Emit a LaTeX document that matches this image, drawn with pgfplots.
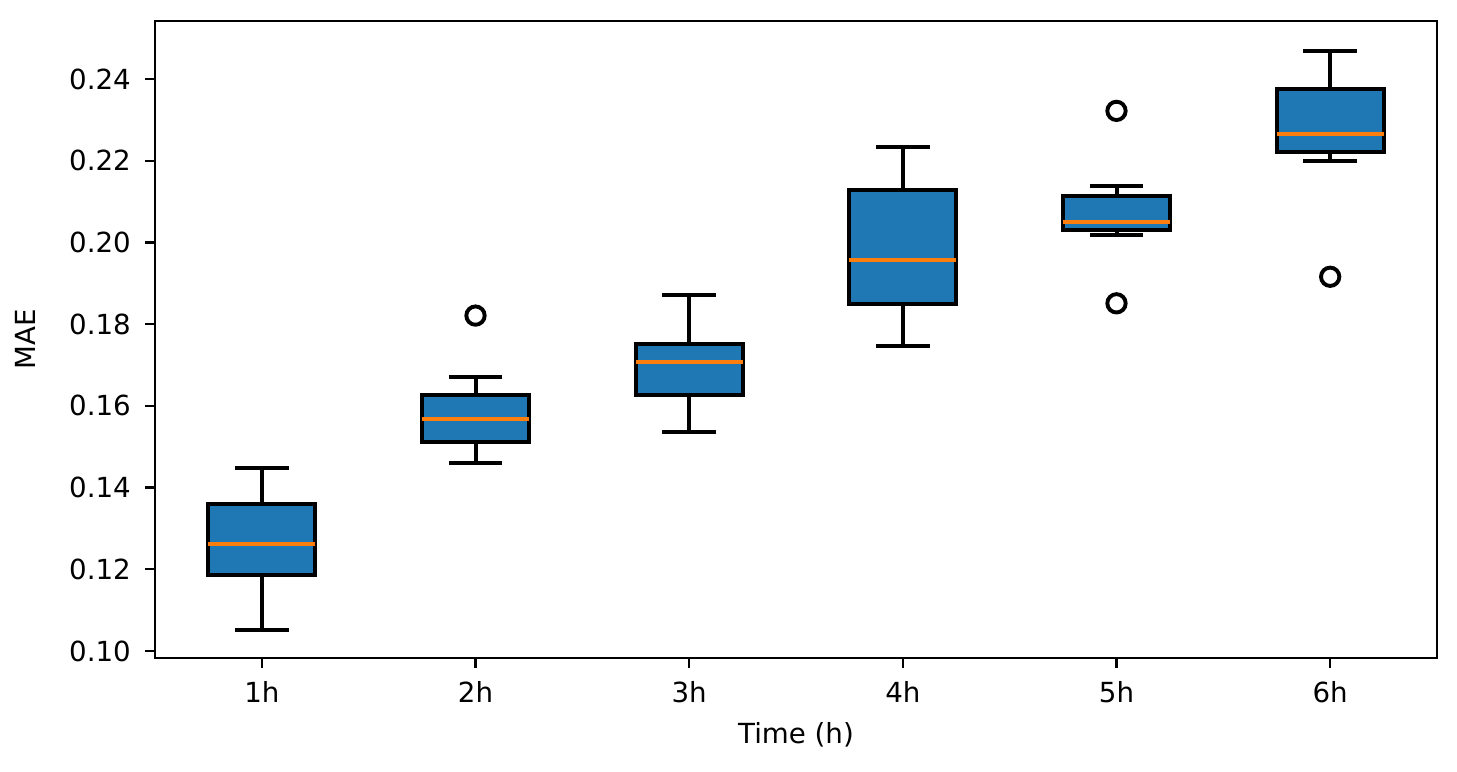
\documentclass[border=0pt]{standalone}
\usepackage{fontspec}
\setmainfont{DejaVu Sans}
\usepackage{pgfplots}
\pgfplotsset{compat=1.18}
\usepgfplotslibrary{statistics}
\definecolor{mplblue}{HTML}{1F77B4}
\definecolor{mplorange}{HTML}{FF7F0E}

\pgfplotsset{
  outl/.style={black, mark=o, mark size=3.3bp,
    mark options={solid, draw=black, fill=none, line width=1.4bp}},
}

\begin{document}
\begin{tikzpicture}
\begin{axis}[
  scale only axis, width=461.5bp, height=229.3bp,
  xmin=0.5, xmax=6.5, ymin=0.0983, ymax=0.2542,
  xtick={1,2,3,4,5,6}, xticklabels={1h,2h,3h,4h,5h,6h},
  ytick={0.10,0.12,0.14,0.16,0.18,0.20,0.22,0.24},
  /pgf/number format/assume math mode=true,
  yticklabel style={/pgf/number format/.cd, fixed, fixed zerofill, precision=2, /tikz/.cd, inner sep=0pt, anchor=east, xshift=-5bp},
  xticklabel style={inner sep=0pt, anchor=north, yshift=-4.7bp},
  tick align=outside, tick pos=left,
  major tick length=3.5bp,
  every tick/.style={black, line width=0.8pt},
  axis line style={line width=0.8pt},
  xlabel={Time (h)}, ylabel={MAE},
  xlabel style={at={(axis description cs:0.5,0)}, anchor=north, inner sep=0pt, yshift=-23bp},
  ylabel style={at={(axis description cs:-0.1014,0.5)}, anchor=center, inner sep=0pt},
  font=\fontsize{10}{12}\selectfont,
  boxplot/draw direction=y,
  boxplot/box extend=0.5,
  boxplot/whisker extend=0.25,
  boxplot/every box/.style={draw=black, fill=mplblue, line width=1.44bp},
  boxplot/every whisker/.style={draw=black, line width=1.44bp},
  boxplot/every median/.style={draw=mplorange, line width=1.44bp},
]
% 1h
\addplot[outl, boxplot prepared={draw position=1,
  lower whisker=0.1052, lower quartile=0.1186, median=0.1263,
  upper quartile=0.1360, upper whisker=0.1447}] coordinates {};
% 2h
\addplot[outl, boxplot prepared={draw position=2,
  lower whisker=0.1461, lower quartile=0.1512, median=0.1569,
  upper quartile=0.1627, upper whisker=0.1671}]
  table[row sep=\\, y index=0] {y\\ 0.1821\\};
% 3h
\addplot[outl, boxplot prepared={draw position=3,
  lower whisker=0.1535, lower quartile=0.1627, median=0.1707,
  upper quartile=0.1751, upper whisker=0.1871}] coordinates {};
% 4h
\addplot[outl, boxplot prepared={draw position=4,
  lower whisker=0.1747, lower quartile=0.1849, median=0.1958,
  upper quartile=0.2128, upper whisker=0.2234}] coordinates {};
% 5h
\addplot[outl, boxplot prepared={draw position=5,
  lower whisker=0.2019, lower quartile=0.2031, median=0.2049,
  upper quartile=0.2114, upper whisker=0.2138}]
  table[row sep=\\, y index=0] {y\\ 0.2322\\ 0.1851\\};
% 6h
\addplot[outl, boxplot prepared={draw position=6,
  lower whisker=0.2200, lower quartile=0.2222, median=0.2266,
  upper quartile=0.2375, upper whisker=0.2468}]
  table[row sep=\\, y index=0] {y\\ 0.1916\\};
\coordinate (bl) at (rel axis cs:0,0);
\coordinate (tr) at (rel axis cs:1,1);
\end{axis}
\pgfresetboundingbox
\path ([xshift=-55.8bp,yshift=-41.0bp]bl) rectangle ([xshift=7.2bp,yshift=7.56bp]tr);
\end{tikzpicture}
\end{document}
